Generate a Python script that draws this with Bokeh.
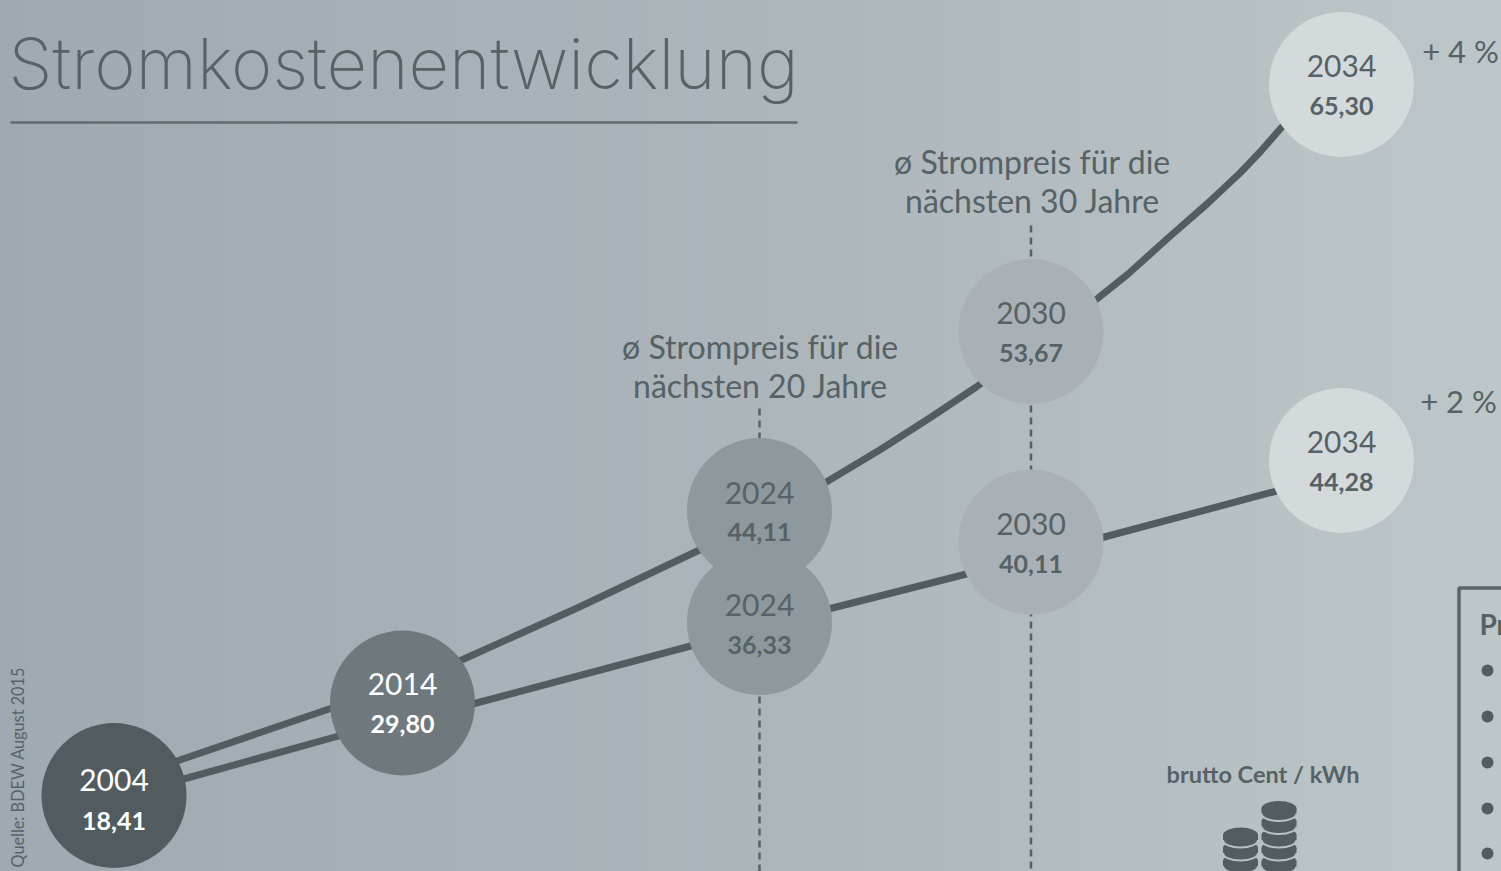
from bokeh.plotting import figure
from bokeh.embed import file_html
from bokeh.resources import INLINE
from bokeh.core.properties import value
from bokeh.models import Range1d

W, H = 1501, 871

# nodes of the chart (schematic positions)
years = ["2004", "2014", "2024", "2024", "2030", "2030", "2034", "2034"]
prices = ["18,41", "29,80", "44,11", "36,33", "53,67", "40,11", "65,30", "44,28"]
node_x = [113.5, 402, 759, 759, 1030.5, 1030.5, 1341, 1341]
node_y = [795, 702.5, 510, 622, 331, 541.5, 84, 460]
year_y = [779, 683, 492, 604, 312, 523, 65, 441]
price_y = [820, 723, 531, 644, 352, 563, 105, 481]
node_fill = ["#525c60", "#6f797d", "#8e999d", "#8e999d", "#a9b1b6", "#a9b1b6", "#d4d9dc", "#d4d9dc"]
node_text = ["#ffffff", "#ffffff", "#566266", "#566266", "#566266", "#566266", "#566266", "#566266"]

# the two growth paths
high_x = [113, 178, 330, 460, 580, 700, 760, 825, 880, 930, 975, 1030, 1097, 1127, 1167, 1207, 1240, 1260, 1281, 1341]
high_y = [783, 760, 708, 660, 606, 549, 518, 482, 449, 417, 387, 347, 298, 274, 238, 203, 172, 151, 127, 70]
low_x = [113, 185, 340, 474, 692, 830, 968, 1102, 1278, 1341]
low_y = [797, 778, 735, 703, 645, 608, 573, 537, 490, 474]

BG_STOPS = [(0, (159, 169, 177)), (800, (173, 182, 187)), (1501, (189, 198, 200))]
INK = "#566266"
LINE = "#525d61"


def bg(x):
    for (a, ca), (b, cb) in zip(BG_STOPS, BG_STOPS[1:]):
        if x <= b:
            t = (x - a) / (b - a)
            return "#%02x%02x%02x" % tuple(round(ca[i] + (cb[i] - ca[i]) * t) for i in range(3))
    return "#bdc6c8"


p = figure(width=W, height=H, output_backend="svg", toolbar_location=None,
           x_range=Range1d(0, W), y_range=Range1d(H, 0),
           min_border=0, min_border_left=0, min_border_right=0, min_border_top=0, min_border_bottom=0,
           outline_line_color=None, border_fill_color=None, background_fill_color=None)
p.axis.visible = False
p.grid.visible = False
p.styles = {"position": "absolute", "left": "0px", "top": "0px",
            "background": "linear-gradient(to right, rgb(159,169,177), rgb(173,182,187) 53%, rgb(189,198,200))"}

# background gradient
strips = list(range(0, W, 10))
p.quad(left=[s - 2 for s in strips], right=[s + 11 for s in strips], top=[-3] * len(strips), bottom=[H + 3] * len(strips),
       fill_color=[bg(s + 5) for s in strips], line_color=None)

# dashed verticals
for x, y0 in ((759, 408), (1030.5, 225)):
    p.line([x, x], [y0, H], line_color=INK, line_width=2.5, line_dash="7 5")

# paths
p.line(high_x, high_y, line_color=LINE, line_width=7, line_join="round")
p.line(low_x, low_y, line_color=LINE, line_width=7, line_join="round")

# nodes
p.circle(node_x, node_y, radius=72.5, fill_color=node_fill, line_color=None)
p.text(node_x, year_y, text=years, text_color=node_text, text_align="center",
       text_baseline="middle", text_font=value("Lato"), text_font_size="30px")
p.text(node_x, price_y, text=prices, text_color=node_text, text_align="center",
       text_baseline="middle", text_font=value("Lato"), text_font_style="bold", text_font_size="25px")


def label(x, y, s, size, align="center", font="Lato", style="normal", angle=0.0, color=INK):
    p.text([x], [y], text=[s], text_color=color, text_align=align, text_baseline="middle",
           text_font=value(font), text_font_style=style, text_font_size=size, angle=angle)


# title
label(8, 63, "Stromkostenentwicklung", "70.5px", align="left", font="Inter ExtraLight")
p.line([10, 797], [122, 122], line_color="#5f6b6e", line_width=2.5)

# annotations
label(760, 346, "ø Strompreis für die", "32px")
label(760, 385, "nächsten 20 Jahre", "32px")
label(1032, 161, "ø Strompreis für die", "32px")
label(1032, 200, "nächsten 30 Jahre", "32px")
label(1460, 50, "+ 4 %", "31px")
label(1458, 400, "+ 2 %", "31px")
label(17, 867, "Quelle: BDEW August 2015", "16.3px", align="left", angle=1.5708)
label(1262.5, 773, "brutto Cent / kWh", "23.5px", style="bold")

# coins: (x, y of the top face), stacked from the bottom up
coin_x = [1240, 1240, 1240, 1278.5, 1278.5, 1278.5, 1278.5, 1278.5]
coin_y = [860.5, 847.5, 834.5, 861, 847.5, 834.5, 821, 808]
for cx, cy in zip(coin_x, coin_y):
    p.ellipse([cx], [cy + 5], width=35, height=15, fill_color=LINE, line_color=bg(cx), line_width=2)
    p.quad(left=[cx - 17.5], right=[cx + 17.5], top=[cy], bottom=[cy + 5], fill_color=LINE, line_color=None)
    p.ellipse([cx], [cy], width=35, height=15, fill_color=LINE, line_color=None)

# assumptions box running off the page
p.line([1505, 1458.5, 1458.5], [587.5, 587.5, H + 4], line_color="#5a6569", line_width=3.5)
label(1479, 623, "Pr", "28px", align="left", style="bold")
p.circle([1487] * 5, [670, 716, 762, 808, 853], radius=6, fill_color=LINE, line_color=None)

open("out.html", "w").write(file_html(p, INLINE))
